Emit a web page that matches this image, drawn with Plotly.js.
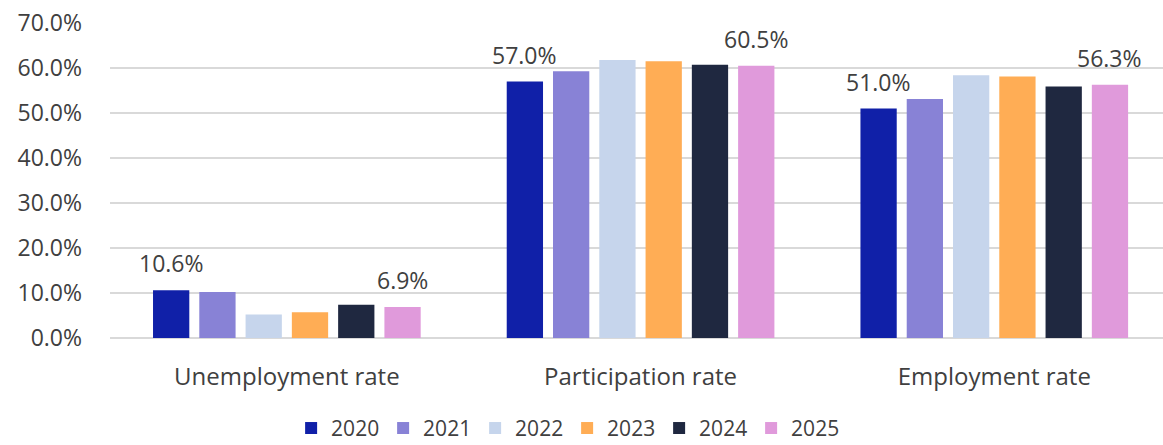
<!DOCTYPE html>
<html>
<head>
<meta charset="utf-8">
<script src="https://cdn.plot.ly/plotly-3.0.1.min.js"></script>
<style>html,body{margin:0;padding:0;background:#fff;}#chart{width:1163px;height:445px;}</style>
</head>
<body>
<div id="chart"></div>
<script>
const categories = ['Unemployment rate', 'Participation rate', 'Employment rate'];
const years = ['2020', '2021', '2022', '2023', '2024', '2025'];
const v2020 = [10.6, 57.0, 51.0];
const v2021 = [10.2, 59.3, 53.1];
const v2022 = [5.2, 61.8, 58.4];
const v2023 = [5.7, 61.5, 58.1];
const v2024 = [7.4, 60.7, 55.9];
const v2025 = [6.9, 60.5, 56.3];
const labelledYears = ['2020', '2025'];
const yTicks = [0, 10, 20, 30, 40, 50, 60, 70];

const colors = ['#1020A8', '#8882D6', '#C6D5EC', '#FFAD55', '#1F2840', '#E09ADB'];
const series = [v2020, v2021, v2022, v2023, v2024, v2025];
const fontFam = '"Open Sans", "Noto Sans", sans-serif';
const textCol = '#404040';
const bargap = 0.215;

const traces = series.map((vals, i) => ({
  type: 'bar',
  name: years[i],
  x: categories,
  y: vals,
  marker: {color: colors[i]},
  hoverinfo: 'skip'
}));

// value labels above the first and last bar of each group
const annotations = [];
series.forEach((vals, i) => {
  if (!labelledYears.includes(years[i])) return;
  const slot = (1 - bargap) / series.length;
  vals.forEach((v, c) => {
    annotations.push({
      x: c + (i - (series.length - 1) / 2) * slot,
      y: v,
      xref: 'x', yref: 'y',
      text: v.toFixed(1) + '%',
      showarrow: false,
      yanchor: 'middle',
      xanchor: 'center',
      yshift: 27,
      font: {family: fontFam, size: 23, color: textCol}
    });
  });
});

const layout = {
  width: 1163,
  height: 445,
  margin: {l: 110, r: 0, t: 23, b: 107, autoexpand: false},
  paper_bgcolor: '#fff',
  plot_bgcolor: '#fff',
  barmode: 'group',
  bargap: bargap,
  bargroupgap: 0.216,
  font: {family: fontFam, size: 23, color: textCol},
  showlegend: true,
  annotations: annotations,
  legend: {
    orientation: 'h',
    x: 0.172, xanchor: 'left', xref: 'paper',
    y: -0.352, yanchor: 'bottom',
    font: {family: fontFam, size: 21, color: textCol},
    traceorder: 'normal',
    entrywidth: 47
  },
  xaxis: {
    type: 'category',
    range: [-0.5, 2.477],
    showgrid: false,
    showline: false,
    ticks: '',
    ticklabelstandoff: 22,
    tickfont: {family: fontFam, size: 24, color: textCol},
    fixedrange: true
  },
  yaxis: {
    range: [0, 70],
    tickvals: yTicks,
    ticktext: yTicks.map(v => v.toFixed(1) + '%'),
    showgrid: true,
    gridcolor: '#D9D9D9',
    gridwidth: 1.5,
    zeroline: true,
    zerolinecolor: '#D9D9D9',
    zerolinewidth: 1.5,
    showline: false,
    ticks: '',
    ticklabelstandoff: 27,
    tickfont: {family: fontFam, size: 23, color: textCol},
    fixedrange: true
  }
};

Plotly.newPlot('chart', traces, layout, {displayModeBar: false, staticPlot: true});
</script>
</body>
</html>
